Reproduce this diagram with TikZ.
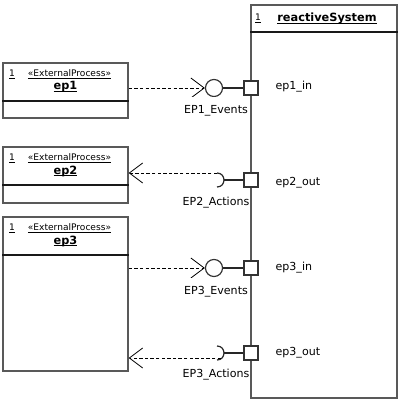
\documentclass[tikz,border=0pt]{standalone}
\usepackage{fontspec}
\setmainfont{DejaVu Sans}
\usetikzlibrary{arrows.meta,fit}
\newcommand\myul[1]{\setbox0\hbox{#1}\rlap{\rule[-1.6pt]{\wd0}{0.5pt}}\box0}
\begin{document}
\begin{tikzpicture}[x=0.75pt,y=-0.75pt,
  box/.style={draw=black!65, line width=1.1pt, inner sep=0pt},
  divider/.style={draw=black!90, line width=0.8pt},
  port/.style={draw=black!80, fill=white, line width=0.9pt, minimum size=10.5pt, inner sep=0pt},
  ball/.style={draw=black!80, fill=white, circle, line width=0.9pt, minimum size=12.8pt, inner sep=0pt},
  wire/.style={draw=black!85, line width=0.9pt},
  dep/.style={line width=0.6pt, dash pattern=on 2.6pt off 1.6pt, -{Straight Barb[length=10pt,width=15pt,line width=0.6pt]}},
  lbl/.style={font=\fontsize{8.3}{10}\selectfont, inner sep=1pt},
  coverlbl/.style={lbl, fill=white, anchor=base, text height=11pt},
  small/.style={font=\fontsize{6.8}{8}\selectfont, inner sep=0pt},
  title/.style={font=\fontsize{8.5}{10}\selectfont\bfseries, inner sep=0pt}
]
\useasboundingbox (0,0) rectangle (401,407);

% reactiveSystem
\node[box, fit={(251,5) (397,398)}] (rs) {};
\draw[divider] (rs.west |- 0,32) -- (rs.east |- 0,32);
\node[small] (rsn) at (258,18) {\myul{1}};
\node[title] (rst) at (327,18) {\myul{reactiveSystem}};

% ep1
\node[box, fit={(3,63) (128,118)}] (ep1) {};
\draw[divider] (ep1.west |- 0,101) -- (ep1.east |- 0,101);
\node[small] (ep1n) at (12,74) {\myul{1}};
\node[small] (ep1s) at (69.5,74) {\myul{«ExternalProcess»}};
\node[title] (ep1t) at (65.5,87) {\myul{ep1}};

% ep2
\node[box, fit={(3,147) (128,203)}] (ep2) {};
\draw[divider] (ep2.west |- 0,185) -- (ep2.east |- 0,185);
\node[small] (ep2n) at (12,158) {\myul{1}};
\node[small] (ep2s) at (69.5,158) {\myul{«ExternalProcess»}};
\node[title] (ep2t) at (65.5,171) {\myul{ep2}};

% ep3
\node[box, fit={(3,217) (128,371)}] (ep3) {};
\draw[divider] (ep3.west |- 0,255) -- (ep3.east |- 0,255);
\node[small] (ep3n) at (12,228) {\myul{1}};
\node[small] (ep3s) at (69.5,228) {\myul{«ExternalProcess»}};
\node[title] (ep3t) at (65.5,241) {\myul{ep3}};

% row 1 : provided interface
\node[ball] (b1) at (214,88) {};
\node[port] (p1) at (251,88) {};
\draw[wire] (b1.east) -- (p1.west);
\draw[dep] (ep1.east |- b1.west) -- (b1.west);
\node[coverlbl] (l1) at (216,113) {EP1\_Events};
\node[lbl, anchor=west] (n1) at (274,87) {ep1\_in};

% row 2 : required interface
\node[port] (p2) at (251,180) {};
\coordinate (s2t) at (217,173);
\coordinate (s2b) at (217,187);
\coordinate (s2) at (224,180);
\draw[wire] (s2t) .. controls (226.3,173) and (226.3,187) .. (s2b);
\draw[wire] (s2) -- (p2.west);
\draw[dep] (s2t) -- (ep2.east |- s2t);
\node[lbl] (l2) at (216,203) {EP2\_Actions};
\node[lbl, anchor=west] (n2) at (274,183) {ep2\_out};

% row 3 : provided interface
\node[ball] (b3) at (214,268) {};
\node[port] (p3) at (251,268) {};
\draw[wire] (b3.east) -- (p3.west);
\draw[dep] (ep3.east |- b3.west) -- (b3.west);
\node[coverlbl] (l3) at (216,294) {EP3\_Events};
\node[lbl, anchor=west] (n3) at (274,268) {ep3\_in};

% row 4 : required interface
\node[port] (p4) at (251,353) {};
\coordinate (s4t) at (217,346);
\coordinate (s4b) at (217,360);
\coordinate (s4) at (224,353);
\coordinate (s4d) at (221,358);
\draw[wire] (s4t) .. controls (226.3,346) and (226.3,360) .. (s4b);
\draw[wire] (s4) -- (p4.west);
\draw[dep] (s4d) -- (ep3.east |- s4d);
\node[lbl] (l4) at (216,375) {EP3\_Actions};
\node[lbl, anchor=west] (n4) at (274,353) {ep3\_out};
\end{tikzpicture}
\end{document}
